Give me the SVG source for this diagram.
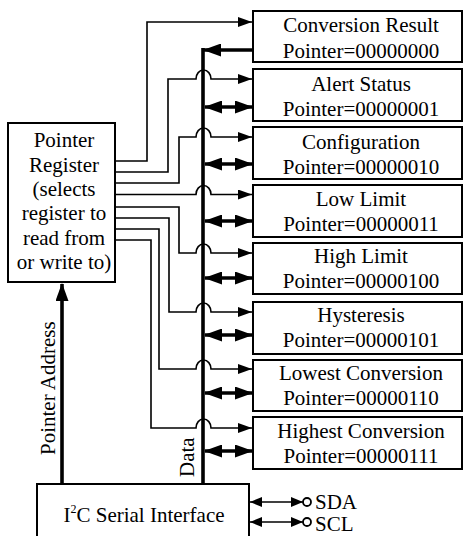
<svg xmlns="http://www.w3.org/2000/svg" width="463" height="536" viewBox="0 0 463 536">
  <style>
    text { font-family: "Liberation Serif", "DejaVu Serif", "Times New Roman", serif; font-size: 21px; fill: #000; }
    .box { fill: #fff; stroke: #000; stroke-width: 2; }
    .thin { fill: none; stroke: #000; stroke-width: 1.6; }
    .thick { fill: none; stroke: #000; stroke-width: 3.6; }
    .mid { text-anchor: middle; }
  </style>
  <defs>
    <marker id="arrowThin" markerUnits="userSpaceOnUse" markerWidth="14" markerHeight="10" refX="14" refY="5" orient="auto-start-reverse">
      <path d="M0,0 L14,5 L0,10 z" fill="#000"/>
    </marker>
    <marker id="arrowThick" markerUnits="userSpaceOnUse" markerWidth="18" markerHeight="13" refX="17" refY="6.5" orient="auto-start-reverse">
      <path d="M0,0 L18,6.5 L0,13 z" fill="#000"/>
    </marker>
    <marker id="arrowPin" markerUnits="userSpaceOnUse" markerWidth="12" markerHeight="10" refX="12" refY="5" orient="auto-start-reverse">
      <path d="M0,0 L12,5 L0,10 z" fill="#000"/>
    </marker>
  </defs>

  <!-- connectors -->
  <g id="connectors">
    <!-- data bus -->
    <path class="thick" d="M203 484 V48"/>
    <!-- pointer address into the pointer register -->
    <path class="thick" d="M62 484 V284" marker-end="url(#arrowThick)"/>

    <!-- register select lines (hop over the bus) -->
    <path class="thin" d="M115 161 H147 V22 H252" marker-end="url(#arrowThin)"/>
    <path class="thin" d="M115 172 H168 V79 H196 A7.5 9 0 0 1 211 79 H252" marker-end="url(#arrowThin)"/>
    <path class="thin" d="M115 183 H179 V137 H196 A7.5 9 0 0 1 211 137 H252" marker-end="url(#arrowThin)"/>
    <path class="thin" d="M115 194.5 H196 A7.5 9 0 0 1 211 194.5 H252" marker-end="url(#arrowThin)"/>
    <path class="thin" d="M115 207 H179 V253 H196 A7.5 9 0 0 1 211 253 H252" marker-end="url(#arrowThin)"/>
    <path class="thin" d="M115 218 H169 V312 H196 A7.5 9 0 0 1 211 312 H252" marker-end="url(#arrowThin)"/>
    <path class="thin" d="M115 229 H159 V369 H196 A7.5 9 0 0 1 211 369 H252" marker-end="url(#arrowThin)"/>
    <path class="thin" d="M115 240 H151 V428 H196 A7.5 9 0 0 1 211 428 H252" marker-end="url(#arrowThin)"/>

    <!-- data paths between bus and registers -->
    <path class="thick" d="M253 50 H204" marker-end="url(#arrowThick)"/>
    <path class="thick" d="M205 107 H252" marker-start="url(#arrowThick)" marker-end="url(#arrowThick)"/>
    <path class="thick" d="M205 164 H252" marker-start="url(#arrowThick)" marker-end="url(#arrowThick)"/>
    <path class="thick" d="M205 221 H252" marker-start="url(#arrowThick)" marker-end="url(#arrowThick)"/>
    <path class="thick" d="M205 278 H252" marker-start="url(#arrowThick)" marker-end="url(#arrowThick)"/>
    <path class="thick" d="M205 335 H252" marker-start="url(#arrowThick)" marker-end="url(#arrowThick)"/>
    <path class="thick" d="M205 393 H252" marker-start="url(#arrowThick)" marker-end="url(#arrowThick)"/>
    <path class="thick" d="M205 451 H252" marker-start="url(#arrowThick)" marker-end="url(#arrowThick)"/>

    <!-- serial pins -->
    <path class="thin" d="M250 502 H303" marker-start="url(#arrowPin)" marker-end="url(#arrowPin)"/>
    <path class="thin" d="M250 522 H303" marker-start="url(#arrowPin)" marker-end="url(#arrowPin)"/>
    <circle cx="307" cy="502" r="4" fill="#fff" stroke="#000" stroke-width="1.8"/>
    <circle cx="307" cy="522" r="4" fill="#fff" stroke="#000" stroke-width="1.8"/>
  </g>

  <!-- labels on connectors -->
  <text transform="translate(55,455) rotate(-90)">Pointer Address</text>
  <text transform="translate(194,477) rotate(-90)">Data</text>
  <text x="315" y="509">SDA</text>
  <text x="315" y="531">SCL</text>

  <g id="pointer-register">
    <rect class="box" x="8" y="123" width="107" height="159"/>
    <text class="mid" x="64" y="147">Pointer</text>
    <text class="mid" x="64" y="171.5">Register</text>
    <text class="mid" x="64" y="196">(selects</text>
    <text class="mid" x="64" y="220">register to</text>
    <text class="mid" x="64" y="244.5">read from</text>
    <text class="mid" x="64" y="269">or write to)</text>
  </g>

  <g id="i2c-interface">
    <rect class="box" x="37" y="484" width="212" height="60"/>
    <text class="mid" x="144" y="522">I<tspan font-size="12" dy="-9">2</tspan><tspan dy="9">C Serial Interface</tspan></text>
  </g>

  <g id="reg-conversion-result">
    <rect class="box" x="253" y="11" width="209" height="51"/>
    <text class="mid" x="361" y="32">Conversion Result</text>
    <text class="mid" x="361" y="58">Pointer=00000000</text>
  </g>
  <g id="reg-alert-status">
    <rect class="box" x="253" y="69" width="209" height="52"/>
    <text class="mid" x="361" y="91">Alert Status</text>
    <text class="mid" x="361" y="116">Pointer=00000001</text>
  </g>
  <g id="reg-configuration">
    <rect class="box" x="253" y="127" width="209" height="52"/>
    <text class="mid" x="361" y="149">Configuration</text>
    <text class="mid" x="361" y="174">Pointer=00000010</text>
  </g>
  <g id="reg-low-limit">
    <rect class="box" x="253" y="185" width="209" height="52"/>
    <text class="mid" x="361" y="206">Low Limit</text>
    <text class="mid" x="361" y="231">Pointer=00000011</text>
  </g>
  <g id="reg-high-limit">
    <rect class="box" x="253" y="243" width="209" height="51"/>
    <text class="mid" x="361" y="263">High Limit</text>
    <text class="mid" x="361" y="288">Pointer=00000100</text>
  </g>
  <g id="reg-hysteresis">
    <rect class="box" x="253" y="302" width="209" height="52"/>
    <text class="mid" x="361" y="322">Hysteresis</text>
    <text class="mid" x="361" y="347">Pointer=00000101</text>
  </g>
  <g id="reg-lowest-conversion">
    <rect class="box" x="253" y="360" width="209" height="51"/>
    <text class="mid" x="361" y="380">Lowest Conversion</text>
    <text class="mid" x="361" y="405">Pointer=00000110</text>
  </g>
  <g id="reg-highest-conversion">
    <rect class="box" x="253" y="417" width="209" height="52"/>
    <text class="mid" x="361" y="438">Highest Conversion</text>
    <text class="mid" x="361" y="463">Pointer=00000111</text>
  </g>
</svg>
